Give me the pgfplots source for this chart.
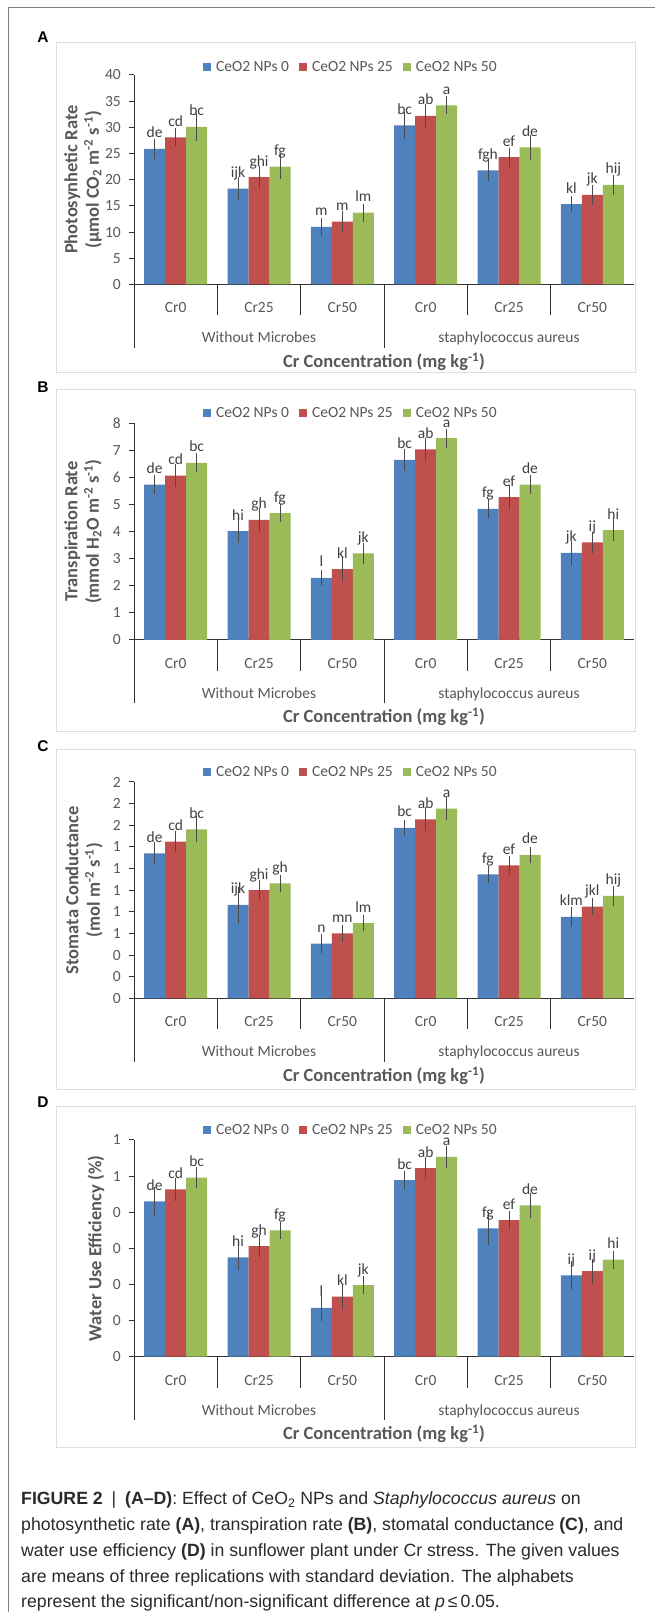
\documentclass[border=0pt]{standalone}
\usepackage{fontspec}
\setmainfont{Carlito}
\newfontfamily\capfont{Liberation Sans}
\usepackage{pgfplots}
\usepackage{pgfplotstable}
\pgfplotsset{compat=1.18}

\definecolor{cblue}{HTML}{4F81BD}
\definecolor{cred}{HTML}{C0504D}
\definecolor{cgreen}{HTML}{9BBB59}
\definecolor{txt}{HTML}{595959}
\definecolor{labc}{HTML}{404040}
\definecolor{errc}{HTML}{4A4A4A}
\definecolor{axc}{HTML}{333333}
\definecolor{boxc}{HTML}{DDDDDD}
\definecolor{framec}{HTML}{808080}
\definecolor{capc}{HTML}{2A2A2A}

\newcommand{\lbl}{\fontsize{15.5bp}{18.5bp}\selectfont}
\newcommand{\ttl}{\bfseries\fontsize{18.5bp}{21.5bp}\selectfont}

% Panel A: photosynthetic rate
\pgfplotstableread{
x y0 e0 l0 y1 e1 l1 y2 e2 l2
1 25.9 0.95 de 28.1 0.8 cd 30.1 1.7 bc
2 18.3 1.3 ijk 20.5 1.25 ghi 22.5 1.5 fg
3 11.0 0.8 m 12.0 1.05 m 13.7 0.75 lm
4 30.4 1.6 bc 32.2 1.3 ab 34.2 0.75 a
5 21.8 1.1 fgh 24.3 0.85 ef 26.2 1.4 de
6 15.35 0.65 kl 17.1 0.9 jk 19.0 1.0 hij
}\tabA
% Panel B: transpiration rate
\pgfplotstableread{
x y0 e0 l0 y1 e1 l1 y2 e2 l2
1 5.74 0.17 de 6.07 0.24 cd 6.54 0.17 bc
2 4.02 0.27 hi 4.43 0.26 gh 4.68 0.14 fg
3 2.29 0.12 l 2.62 0.26 kl 3.20 0.21 jk
4 6.65 0.22 bc 7.04 0.23 ab 7.45 0.16 a
5 4.84 0.17 fg 5.27 0.26 ef 5.74 0.17 de
6 3.22 0.26 jk 3.60 0.22 ij 4.06 0.22 hi
}\tabB
% Panel C: stomatal conductance
\pgfplotstableread{
x y0 e0 l0 y1 e1 l1 y2 e2 l2
1 1.340 0.055 de 1.448 0.052 cd 1.562 0.074 bc
2 0.863 0.123 ijk 1.000 0.048 ghi 1.063 0.035 gh
3 0.505 0.042 n 0.600 0.031 mn 0.696 0.032 lm
4 1.575 0.028 bc 1.655 0.066 ab 1.753 0.062 a
5 1.146 0.031 fg 1.230 0.040 ef 1.325 0.031 de
6 0.752 0.046 klm 0.847 0.031 jkl 0.946 0.043 hij
}\tabC
% Panel D: water use efficiency
\pgfplotstableread{
x y0 e0 l0 y1 e1 l1 y2 e2 l2
1 0.430 0.027 de 0.463 0.017 cd 0.496 0.016 bc
2 0.275 0.021 hi 0.306 0.017 gh 0.350 0.010 fg
3 0.135 0.021 l 0.166 0.021 kl 0.198 0.011 jk
4 0.489 0.011 bc 0.522 0.016 ab 0.553 0.016 a
5 0.355 0.031 fg 0.378 0.011 ef 0.419 0.020 de
6 0.225 0.025 ij 0.237 0.021 ij 0.269 0.011 hi
}\tabD

\pgfplotsset{
  panel/.style={
    scale only axis, width=500bp, anchor=south west,
    xmin=0.5, xmax=6.5, ymin=0,
    axis x line=bottom, axis y line=left,
    axis line style={-, draw=axc, line width=1bp},
    ybar=0pt, bar width=21bp,
    xtick={1,2,3,4,5,6}, xticklabels={Cr0,Cr25,Cr50,Cr0,Cr25,Cr50},
    xtick style={draw=none},
    ytick style={draw=axc, line width=1bp},
    tick align=outside, major tick length=5bp,
    xticklabel style={anchor=base, yshift=-23.5bp, font=\lbl, text=txt, inner sep=0pt},
    yticklabel style={anchor=east, font=\lbl, text=txt, inner sep=0pt, xshift=-8bp},
    clip=false,
    legend columns=3,
    legend cell align=left,
    legend style={at={(0.432,1)}, anchor=center, yshift=10bp, draw=none, fill=none,
      inner sep=0pt, outer sep=0pt, font=\lbl, text=txt,
      nodes={inner sep=0pt},
      /tikz/every odd column/.append style={column sep=5bp},
      /tikz/every even column/.append style={column sep=10.5bp}},
    legend image code/.code={\fill[##1] (0bp,-3.85bp) rectangle (7.7bp,3.85bp);},
    nodes near coords, point meta=explicit symbolic,
    every node near coord/.append style={anchor=base, yshift=11bp, font=\lbl, text=labc},
    error bars/y dir=both, error bars/y explicit,
    error bars/error bar style={draw=errc, line width=1bp},
    error bars/error mark options={draw=errc, line width=1bp, mark size=5bp},
  },
  sb/.style={fill=cblue, draw=none},
  sr/.style={fill=cred, draw=none},
  sg/.style={fill=cgreen, draw=none},
}

\newcommand{\catdecor}{%
  \draw[axc, line width=1bp] (axis cs:0.5,0) -- ++(0bp,-63.5bp);
  \draw[axc, line width=1bp] (axis cs:3.5,0) -- ++(0bp,-63.5bp);
  \draw[axc, line width=1bp] (axis cs:1.5,0) -- ++(0bp,-31bp);
  \draw[axc, line width=1bp] (axis cs:2.5,0) -- ++(0bp,-31bp);
  \draw[axc, line width=1bp] (axis cs:4.5,0) -- ++(0bp,-31bp);
  \draw[axc, line width=1bp] (axis cs:5.5,0) -- ++(0bp,-31bp);
  \node[yshift=-58.5bp, anchor=base, font=\lbl, text=txt, inner sep=0pt] at (axis cs:2,0) {Without Microbes};
  \node[yshift=-58.5bp, anchor=base, font=\lbl, text=txt, inner sep=0pt] at (axis cs:5,0) {staphylococcus aureus};
  \node[yshift=-83bp, anchor=base, font=\ttl, text=txt, inner sep=0pt] at (axis cs:3.5,0) {Cr Concentration (mg kg\textsuperscript{-1})};
}

\begin{document}
\begin{tikzpicture}
\fill[white] (0,0) rectangle (655bp,1612bp);
\path[use as bounding box] (0,0) rectangle (655bp,1612bp);

% outer frame
\draw[framec, line width=1.3bp] (8.3bp,0bp) -- (8.3bp,1604.7bp) -- (655bp,1604.7bp);

% panel boxes
\draw[boxc, line width=1bp] (56bp,1569bp) rectangle (635bp,1239bp);
\draw[boxc, line width=1bp] (56bp,1222bp) rectangle (635bp,880bp);
\draw[boxc, line width=1bp] (56bp,862bp) rectangle (635bp,522bp);
\draw[boxc, line width=1bp] (56bp,505bp) rectangle (635bp,164bp);

% panel letters
\begin{scope}[every node/.style={font=\capfont\bfseries\fontsize{15.5bp}{18bp}\selectfont, text=black}]
\node at (43bp,1575bp) {A};
\node at (43bp,1225bp) {B};
\node at (43bp,866bp) {C};
\node at (43bp,510bp) {D};
\end{scope}

% ---------- A ----------
\begin{axis}[panel, at={(134bp,1327.5bp)}, height=209.5bp, ymax=40,
  ytick={0,5,10,15,20,25,30,35,40}, yticklabels={0,5,10,15,20,25,30,35,40},
  legend style={yshift=-2bp}]
\addplot[sb] table[x=x, y=y0, y error=e0, meta=l0] {\tabA};
\addplot[sr] table[x=x, y=y1, y error=e1, meta=l1] {\tabA};
\addplot[sg] table[x=x, y=y2, y error=e2, meta=l2] {\tabA};
\legend{CeO2 NPs 0, CeO2 NPs 25, CeO2 NPs 50}
\catdecor
\node[xshift=-51bp, rotate=90, align=center, font=\ttl, text=txt, inner sep=0pt] at (rel axis cs:0,0.5) {Photosynhetic Rate\\(µmol CO\textsubscript{2} m\textsuperscript{-2} s\textsuperscript{-1})};
\end{axis}

% ---------- B ----------
\begin{axis}[panel, at={(134bp,972bp)}, height=216.7bp, ymax=8,
  ytick={0,1,2,3,4,5,6,7,8}, yticklabels={0,1,2,3,4,5,6,7,8}]
\addplot[sb] table[x=x, y=y0, y error=e0, meta=l0] {\tabB};
\addplot[sr] table[x=x, y=y1, y error=e1, meta=l1] {\tabB};
\addplot[sg] table[x=x, y=y2, y error=e2, meta=l2] {\tabB};
\legend{CeO2 NPs 0, CeO2 NPs 25, CeO2 NPs 50}
\catdecor
\node[xshift=-51bp, rotate=90, align=center, font=\ttl, text=txt, inner sep=0pt] at (rel axis cs:0,0.5) {Transpiration Rate\\(mmol H\textsubscript{2}O m\textsuperscript{-2} s\textsuperscript{-1})};
\end{axis}

% ---------- C ----------
\begin{axis}[panel, at={(134bp,613.7bp)}, height=216.3bp, ymax=2,
  ytick={0,0.2,0.4,0.6,0.8,1,1.2,1.4,1.6,1.8,2}, yticklabels={0,0,0,1,1,1,1,1,2,2,2}]
\addplot[sb] table[x=x, y=y0, y error=e0, meta=l0] {\tabC};
\addplot[sr] table[x=x, y=y1, y error=e1, meta=l1] {\tabC};
\addplot[sg] table[x=x, y=y2, y error=e2, meta=l2] {\tabC};
\legend{CeO2 NPs 0, CeO2 NPs 25, CeO2 NPs 50}
\catdecor
\node[xshift=-50bp, rotate=90, align=center, font=\ttl, text=txt, inner sep=0pt] at (rel axis cs:0,0.5) {Stomata Conductance\\(mol m\textsuperscript{-2} s\textsuperscript{-1})};
\end{axis}

% ---------- D ----------
\begin{axis}[panel, at={(134bp,255.3bp)}, height=216.7bp, ymax=0.6,
  ytick={0,0.1,0.2,0.3,0.4,0.5,0.6}, yticklabels={0,0,0,0,0,1,1}]
\addplot[sb] table[x=x, y=y0, y error=e0, meta=l0] {\tabD};
\addplot[sr] table[x=x, y=y1, y error=e1, meta=l1] {\tabD};
\addplot[sg] table[x=x, y=y2, y error=e2, meta=l2] {\tabD};
\legend{CeO2 NPs 0, CeO2 NPs 25, CeO2 NPs 50}
\catdecor
\node[xshift=-38bp, rotate=90, font=\ttl, text=txt, inner sep=0pt] at (rel axis cs:0,0.5) {Water Use Efficiency (\%)};
\end{axis}

% caption
\begin{scope}[every node/.style={anchor=base west, inner sep=0pt, font=\capfont\fontsize{17.7bp}{22bp}\selectfont, text=capc}]
\node at (21bp,107.3bp) {\textbf{FIGURE 2}\enspace|\enspace\textbf{(A–D)}: Effect of CeO\textsubscript{2} NPs and \textit{Staphylococcus aureus} on};
\node at (21bp,81bp) {photosynthetic rate \textbf{(A)}, transpiration rate \textbf{(B)}, stomatal conductance \textbf{(C)}, and};
\node at (21bp,55bp) {water use efficiency \textbf{(D)} in sunflower plant under Cr stress. The given values};
\node at (21bp,30bp) {are means of three replications with standard deviation. The alphabets};
\node at (21bp,5bp) {represent the significant/non-significant difference at \textit{p}\,≤\,0.05.};
\end{scope}
\end{tikzpicture}
\end{document}
